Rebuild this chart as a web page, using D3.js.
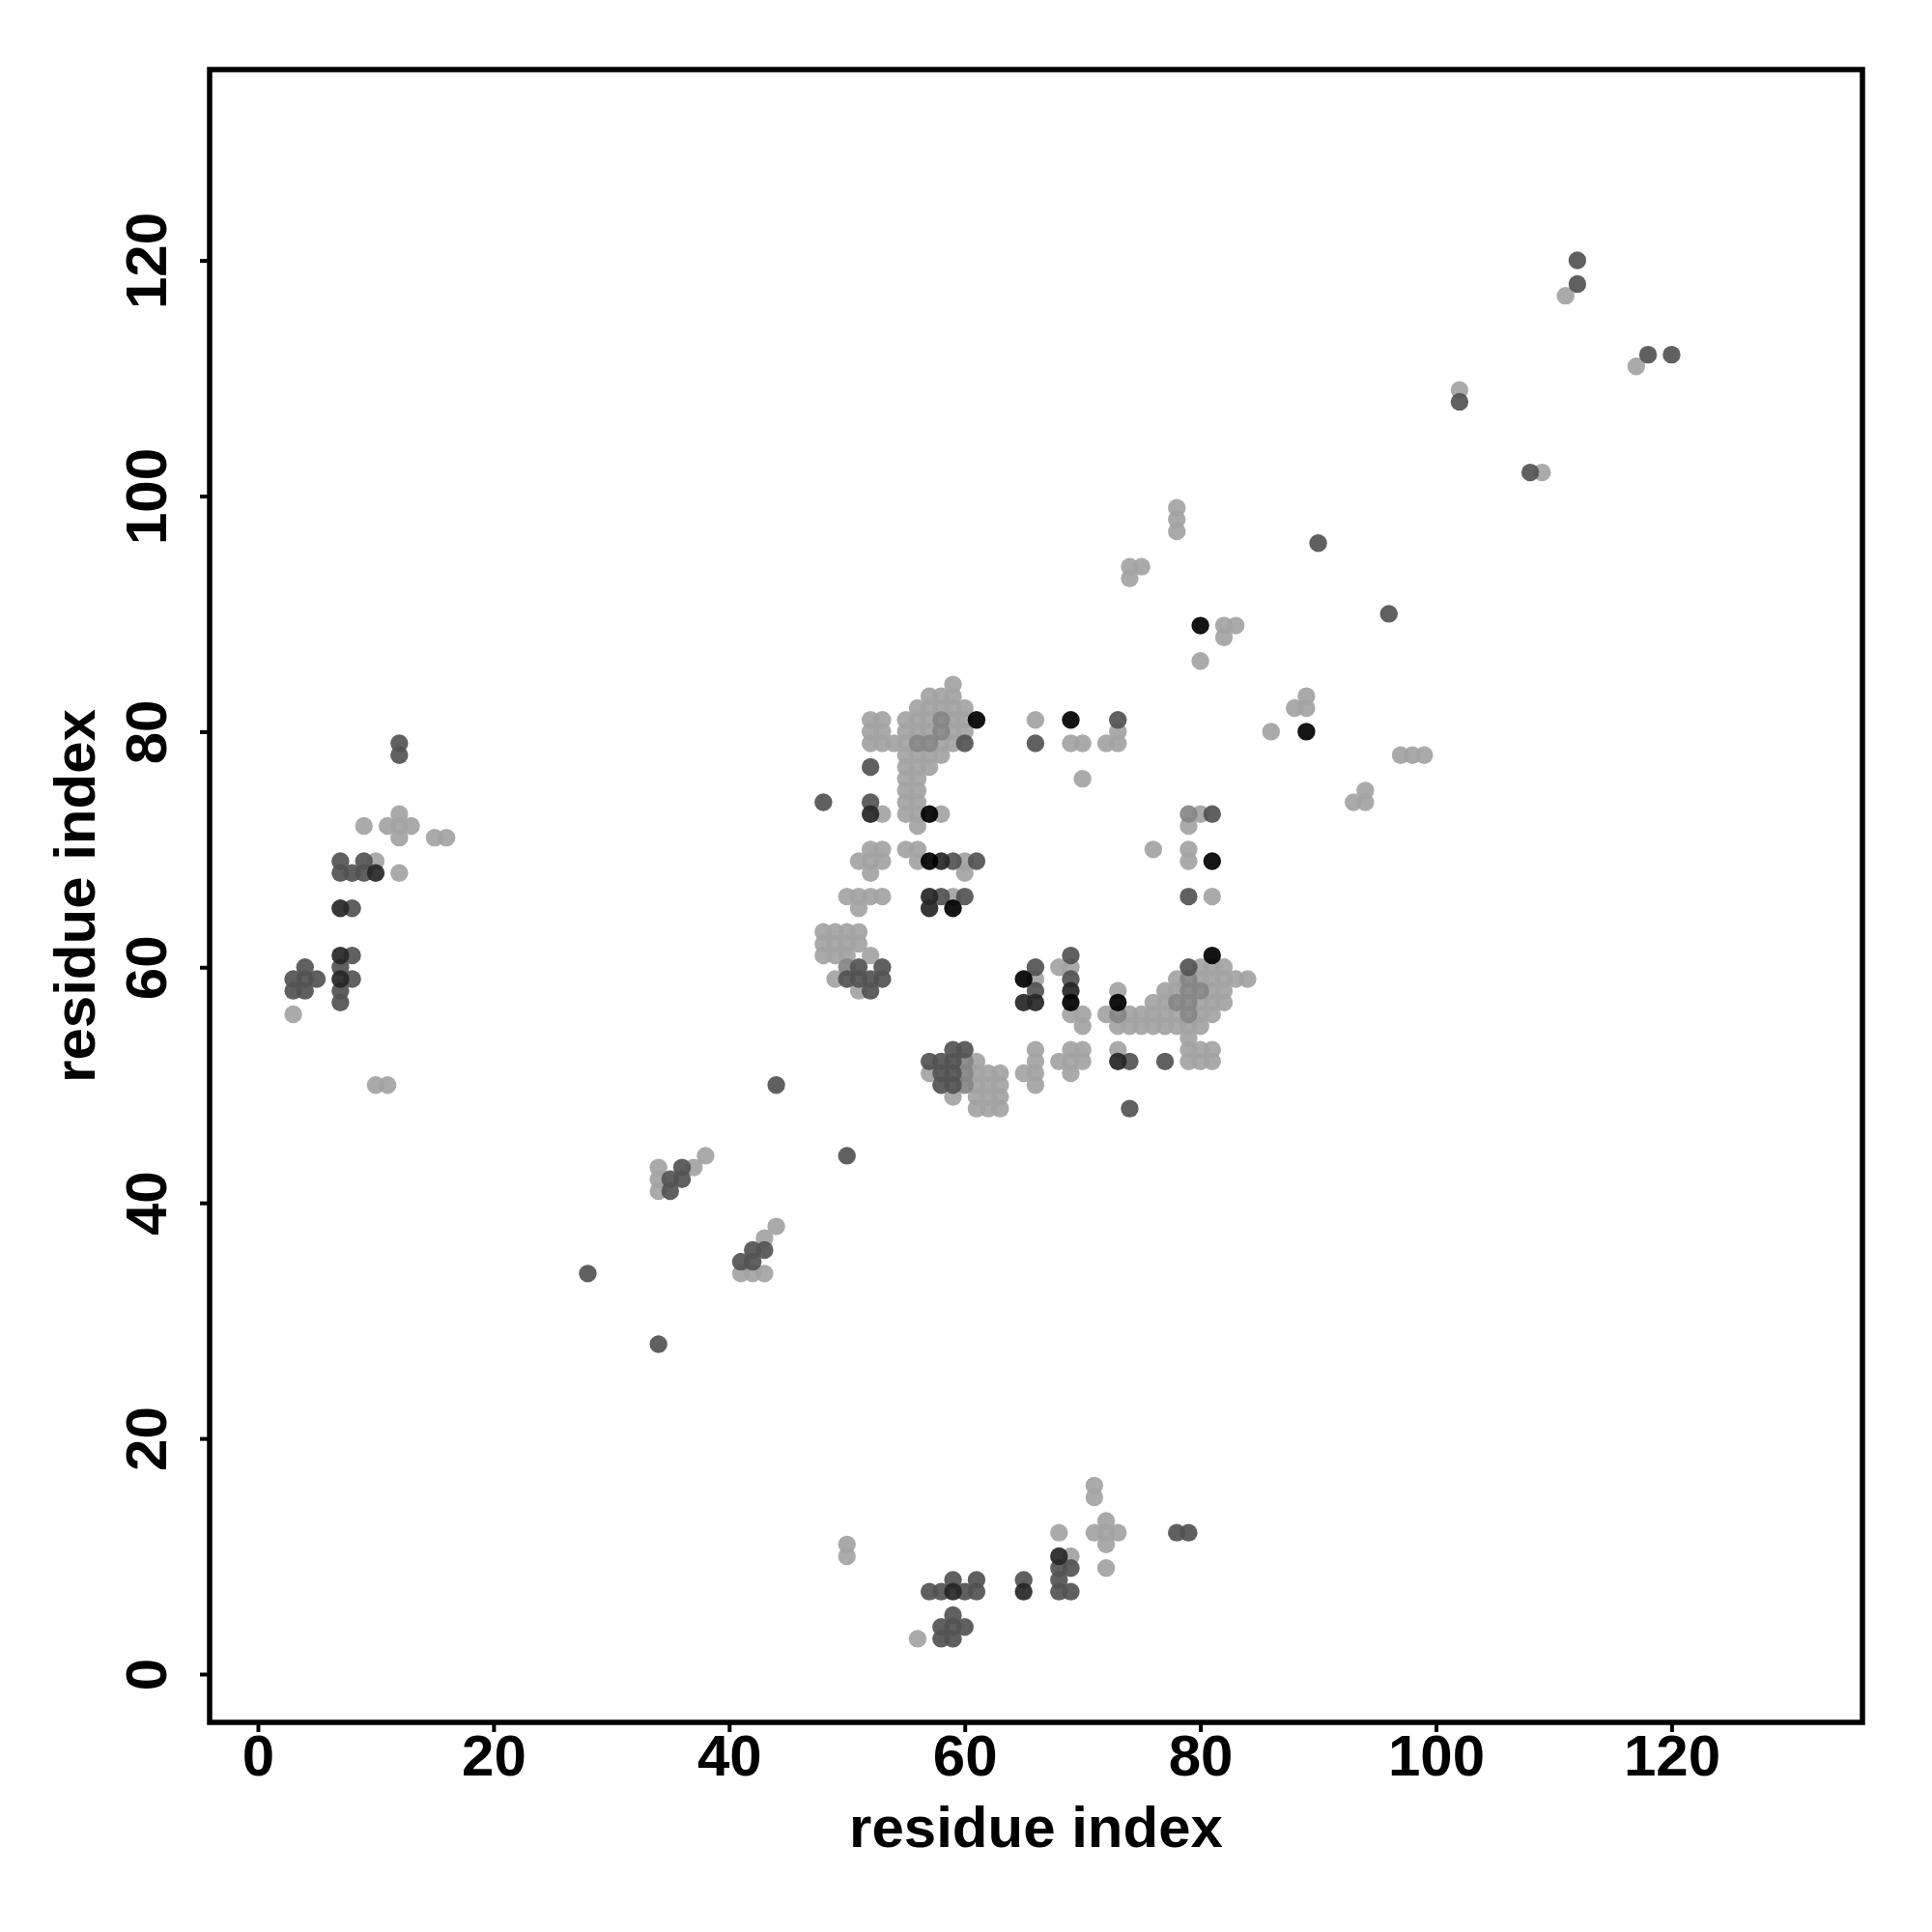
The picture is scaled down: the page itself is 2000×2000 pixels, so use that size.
<!DOCTYPE html>
<html>
<head>
<meta charset="utf-8">
<script src="https://cdn.jsdelivr.net/npm/d3@7"></script>
<style>
  body { margin: 0; background: #ffffff; }
  svg text { font-family: "Liberation Sans", Arial, Helvetica, sans-serif; font-weight: bold; }
</style>
</head>
<body>
<svg id="chart"></svg>
<script>
// Contact map points, grouped by grey level: [residue i, residue j]
const POINTS_LIGHT = [
  [3,56],[9,72],[11,72],[12,73],[12,72],[13,72],[12,71],[15,71],[16,71],[10,69],[12,68],[10,50],[11,50],
  [38,44],[37,43],[34,43],[34,42],[34,41],[44,38],[43,37],[41,34],[42,34],[43,34],
  [59,84],[57,83],[58,83],[59,83],
  [56,82],[57,82],[58,82],[59,82],[60,82],
  [52,81],[53,81],[55,81],[56,81],[57,81],[59,81],[60,81],
  [52,80],[53,80],[55,80],[56,80],[57,80],[59,80],[60,80],
  [52,79],[53,79],[54,79],[55,79],[58,79],[59,79],
  [55,78],[56,78],[57,78],[58,78],
  [55,77],[56,77],[57,77],
  [55,76],[56,76],[55,75],[56,75],[55,74],[56,74],
  [53,73],[55,73],[56,73],[58,73],[56,72],
  [52,70],[53,70],[51,69],[52,69],[53,69],[52,68],[55,70],[56,70],[56,69],[60,69],[60,68],
  [50,66],[51,66],[52,66],[53,66],[51,65],[59,66],
  [48,63],[49,63],[50,63],[51,63],[48,62],[49,62],[50,62],[51,62],[48,61],[49,61],[50,61],[52,61],[49,59],[51,58],
  [66,81],[69,79],[70,79],[72,79],[73,79],[73,80],[70,76],[76,70],
  [61,52],[57,51],[61,51],[62,51],[63,51],[61,50],[62,50],[63,50],[59,49],[61,49],[62,49],[63,49],[61,48],[62,48],[63,48],
  [66,59],[66,53],[66,52],[65,51],[66,51],[66,50],
  [69,60],[68,60],[69,56],[70,56],[70,55],[68,52],[69,53],[70,53],[69,52],[70,52],[69,51],[73,58],[73,53],
  [80,73],[79,72],[79,70],[79,69],[81,66],
  [80,60],[81,60],[82,60],
  [78,59],[80,59],[81,59],[82,59],[83,59],[84,59],
  [77,58],[78,58],[81,58],[82,58],
  [76,57],[77,57],[80,57],[81,57],[82,57],
  [72,56],[74,56],[75,56],[76,56],[77,56],[78,56],[80,56],[81,56],
  [73,55],[74,55],[75,55],[76,55],[77,55],[78,55],[79,55],[80,55],
  [79,54],[79,53],[80,53],[81,53],[79,52],[80,52],[81,52],
  [78,99],[78,98],[78,97],[74,94],[75,94],[74,93],[82,89],[83,89],[82,88],[80,86],[89,83],[88,82],[89,82],[86,80],
  [97,78],[98,78],[99,78],[94,75],[93,74],[94,74],[102,109],[109,102],[111,117],[117,111],
  [50,11],[50,10],[56,3],[69,10],[68,12],[71,16],[71,15],[72,13],[71,12],[72,12],[73,12],[72,11],[72,9]
];

const POINTS_GRAY = [
  [58,81],[58,80],[56,79],[57,79],[79,73],[73,56],[79,59],[79,58],[80,58],[78,57],[79,57],[79,56],
  [60,52],[60,51],[60,50],[50,60]
];

const POINTS_MID = [
  [12,79],[12,78],[7,69],[9,69],[7,68],[8,68],[9,68],[8,65],[8,61],[7,60],[8,59],[7,58],[7,57],
  [4,60],[3,59],[4,59],[5,59],[3,58],[4,58],
  [36,43],[35,42],[36,42],[35,41],[42,36],[43,36],[41,35],[42,35],[28,34],[34,28],[44,50],[50,44],[48,74],
  [52,77],[52,74],[60,79],[66,79],[59,69],[61,69],[58,66],[60,66],
  [51,60],[53,60],[50,59],[51,59],[52,59],[53,59],[52,58],
  [66,60],[66,58],[69,61],[69,59],[73,81],[81,73],[79,66],[79,60],
  [59,53],[60,53],[57,52],[58,52],[59,52],[58,51],[59,51],[58,50],[59,50],
  [74,52],[77,52],[74,48],
  [90,96],[96,90],[102,108],[108,102],[112,120],[112,118],[118,112],[120,112],
  [57,7],[58,7],[60,7],[61,7],[59,8],[61,8],[65,8],[68,9],[69,9],[68,8],[68,7],[69,7],
  [59,5],[58,4],[59,4],[60,4],[58,3],[59,3],[78,12],[79,12]
];

const POINTS_DARK = [
  [10,68],[7,65],[7,61],[7,59],[52,73],[58,69],[57,66],[57,65],[65,57],[66,57],[69,58],[73,52],
  [59,7],[65,7],[68,10]
];

const POINTS_BLACK = [
  [57,73],[61,81],[57,69],[59,65],[65,59],[69,57],[69,81],[81,69],[81,61],[80,89],[89,80],[73,57]
];

const LEVEL_NAMES = ['light', 'gray', 'mid', 'dark', 'black'];
const AXIS_TICKS = [0, 20, 40, 60, 80, 100, 120];
const AXIS_DOMAIN = [-4.1, 136.2];
const X_LABEL = 'residue index';
const Y_LABEL = 'residue index';

const ContactMapViz = {
    // plot frame in page pixels
    frame: {left: 217, right: 1928, top: 72, bottom: 1783},
    fills: {light: '#a3a3a3', gray: '#858585', mid: '#525252', dark: '#262626', black: '#000000'},
    radius: 9.2,
    svg: null,

    init() {
        this.svg = d3.select('#chart')
            .attr('width', 2000)
            .attr('height', 2000);

        this.svg.append('rect')
            .attr('width', 2000).attr('height', 2000)
            .attr('fill', '#ffffff');

        this.draw();
    },

    draw() {
        const f = this.frame;

        const x = d3.scaleLinear().domain(AXIS_DOMAIN).range([f.left, f.right]);
        const y = d3.scaleLinear().domain(AXIS_DOMAIN).range([f.bottom, f.top]);

        const groups = {
            light: POINTS_LIGHT, gray: POINTS_GRAY, mid: POINTS_MID,
            dark: POINTS_DARK, black: POINTS_BLACK
        };

        // points, lighter levels first so dark contacts stay on top
        LEVEL_NAMES.forEach(level => {
            this.svg.append('g')
                .attr('class', 'points-' + level)
                .selectAll('circle')
                .data(groups[level])
                .enter()
                .append('circle')
                .attr('cx', d => x(d[0]))
                .attr('cy', d => y(d[1]))
                .attr('r', this.radius)
                .attr('fill', this.fills[level])
                .attr('fill-opacity', 0.92);
        });

        // bottom axis
        const xAxis = this.svg.append('g')
            .attr('transform', `translate(0,${f.bottom})`)
            .call(d3.axisBottom(x).tickValues(AXIS_TICKS).tickSize(10).tickPadding(0).tickSizeOuter(0));
        xAxis.select('.domain').remove();
        xAxis.selectAll('.tick line').attr('stroke', '#000').attr('stroke-width', 4);
        xAxis.selectAll('.tick text')
            .attr('y', 55)
            .attr('dy', 0)
            .attr('fill', '#000')
            .attr('font-size', 60)
            .attr('font-family', '"Liberation Sans", Arial, sans-serif')
            .attr('font-weight', 'bold');

        // left axis, labels parallel to the axis
        const yAxis = this.svg.append('g')
            .attr('transform', `translate(${f.left},0)`)
            .call(d3.axisLeft(y).tickValues(AXIS_TICKS).tickSize(10).tickSizeOuter(0));
        yAxis.select('.domain').remove();
        yAxis.selectAll('.tick line').attr('stroke', '#000').attr('stroke-width', 4);
        yAxis.selectAll('.tick text')
            .attr('x', null)
            .attr('dy', null)
            .attr('transform', `translate(${172 - f.left},0) rotate(-90)`)
            .attr('text-anchor', 'middle')
            .attr('fill', '#000')
            .attr('font-size', 60)
            .attr('font-family', '"Liberation Sans", Arial, sans-serif')
            .attr('font-weight', 'bold');

        // frame
        this.svg.append('rect')
            .attr('x', f.left)
            .attr('y', f.top)
            .attr('width', f.right - f.left)
            .attr('height', f.bottom - f.top)
            .attr('fill', 'none')
            .attr('stroke', '#000')
            .attr('stroke-width', 5.5);

        // axis titles
        this.svg.append('text')
            .attr('x', (f.left + f.right) / 2)
            .attr('y', 1912)
            .attr('text-anchor', 'middle')
            .attr('font-size', 60)
            .attr('fill', '#000')
            .text(X_LABEL);

        this.svg.append('text')
            .attr('transform', `translate(98,${(f.top + f.bottom) / 2}) rotate(-90)`)
            .attr('text-anchor', 'middle')
            .attr('font-size', 60)
            .attr('fill', '#000')
            .text(Y_LABEL);
    }
};

ContactMapViz.init();
</script>
</body>
</html>
